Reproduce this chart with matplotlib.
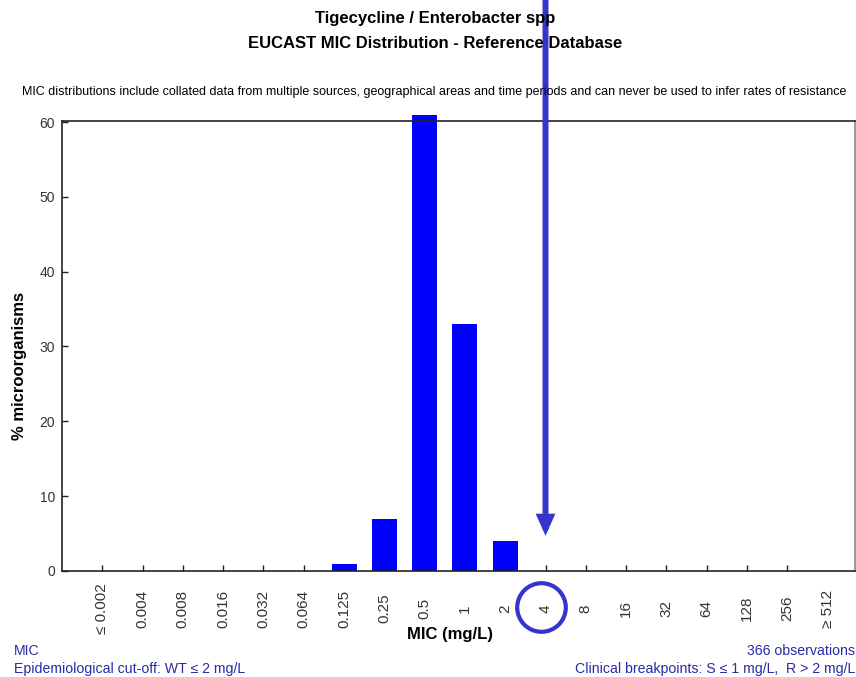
import matplotlib
matplotlib.use("Agg")
import matplotlib.pyplot as plt

plt.rcParams['font.family'] = ['Liberation Sans', 'DejaVu Sans']

# MIC categories and % of organisms
mic_labels = ['≤ 0.002', '0.004', '0.008', '0.016', '0.032', '0.064', '0.125', '0.25',
              '0.5', '1', '2', '4', '8', '16', '32', '64', '128', '256', '≥ 512']
percent = [0, 0, 0, 0, 0, 0, 0.9, 7.0, 61.0, 33.0, 4.0, 0, 0, 0, 0, 0, 0, 0, 0]
y_ticks = [0, 10, 20, 30, 40, 50, 60]
marked_mic = '4'

fig = plt.figure(figsize=(8.56, 6.77), dpi=100)
ax = fig.add_axes([0.0724, 0.1566, 0.9264, 0.6654])

x = list(range(len(mic_labels)))
ax.bar(x, percent, width=0.62, color='#0000ff', linewidth=0,
       clip_on=False, zorder=2)

ax.set_xlim(-1, 18.68)
ax.set_ylim(0, 60.2)

# ticks inward, labels rotated
ax.set_xticks(x)
ax.set_xticklabels(mic_labels, rotation=90, va='center', ha='center',
                   fontsize=11, color='#333333')
ax.xaxis.get_major_ticks()[-1].tick1line.set_visible(False)
ax.tick_params(axis='x', direction='in', length=4, width=1, pad=27, color='#222222')
ax.set_yticks(y_ticks)
ax.tick_params(axis='y', direction='in', length=4, width=1, pad=5, labelsize=10,
               color='#222222', labelcolor='#333333')

for s in ['left', 'top', 'bottom']:
    ax.spines[s].set_color('#222222')
    ax.spines[s].set_linewidth(1.2)
ax.spines['right'].set_color('#888888')
ax.spines['right'].set_linewidth(1.2)

ax.set_xlabel('MIC (mg/L)', fontsize=12, fontweight='bold', va='center')
ax.xaxis.set_label_coords(0.489, -0.142)
ax.set_ylabel('% microorganisms', fontsize=12, fontweight='bold', va='center')
ax.yaxis.set_label_coords(-0.053, 0.455)

# titles
fig.text(0.508, 1 - 18 / 677, 'Tigecycline / Enterobacter spp', ha='center', va='center',
         fontsize=12, fontweight='bold')
fig.text(0.508, 1 - 43 / 677, 'EUCAST MIC Distribution - Reference Database', ha='center',
         va='center', fontsize=12, fontweight='bold')
fig.text(0.507, 1 - 92 / 677,
         'MIC distributions include collated data from multiple sources, geographical areas '
         'and time periods and can never be used to infer rates of resistance',
         ha='center', va='center', fontsize=9)

# footer
blue_txt = '#2a2aa8'
fig.text(14 / 856, 1 - 651 / 677, 'MIC', ha='left', va='center', fontsize=10.2, color=blue_txt)
fig.text(14 / 856, 1 - 669 / 677, 'Epidemiological cut-off: WT ≤ 2 mg/L', ha='left',
         va='center', fontsize=10.2, color=blue_txt)
fig.text(855 / 856, 1 - 651 / 677, '366 observations', ha='right', va='center',
         fontsize=10.2, color=blue_txt)
fig.text(855 / 856, 1 - 669 / 677, 'Clinical breakpoints: S ≤ 1 mg/L,  R > 2 mg/L',
         ha='right', va='center', fontsize=10.2, color=blue_txt)

# arrow and circle marking MIC 4
xm = mic_labels.index(marked_mic)
ax.annotate('', xy=(xm, 4.7), xycoords='data',
            xytext=(xm, 1.01), textcoords=('data', 'figure fraction'),
            arrowprops=dict(arrowstyle='-|>,head_length=0.85,head_width=0.38',
                            color='#3535cc', lw=4.3, shrinkA=0, shrinkB=0,
                            joinstyle='miter'),
            annotation_clip=False)
ax.plot([xm - 0.1], [-0.08], transform=ax.get_xaxis_transform(), marker='o', ms=35,
        mfc='none', mec='#3535cc', mew=3, clip_on=False, zorder=5)

fig.savefig('out.png', dpi=100)
